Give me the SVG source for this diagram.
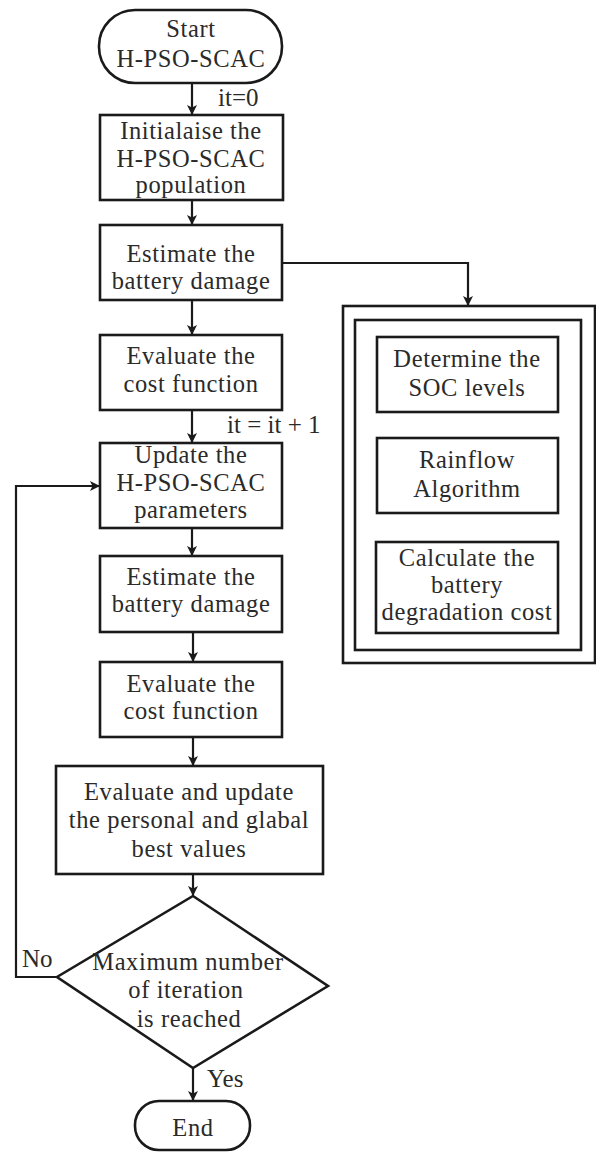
<svg xmlns="http://www.w3.org/2000/svg" width="596" height="1153" viewBox="0 0 596 1153">
<style>
.n{fill:#fff;stroke:#1a1a1a;stroke-width:2.6}
.t{font-family:"Liberation Serif","Times New Roman",serif;font-size:24.5px;letter-spacing:0.6px;fill:#2a2a2a;text-anchor:middle}
.l{font-family:"Liberation Serif","Times New Roman",serif;font-size:25px;fill:#2a2a2a}
.c{fill:none;stroke:#1a1a1a;stroke-width:2.2}
</style>
<defs>
<marker id="a" markerWidth="10" markerHeight="10" refX="9" refY="5" orient="auto" markerUnits="userSpaceOnUse">
<path d="M0,0 L10,5 L0,10 L2.5,5 Z" fill="#1a1a1a"/>
</marker>
</defs>
<rect width="596" height="1153" fill="#fff"/>
<g id="connectors">
<line class="c" x1="192" y1="83" x2="192" y2="114" marker-end="url(#a)"/>
<line class="c" x1="192" y1="200" x2="192" y2="224" marker-end="url(#a)"/>
<polyline class="c" points="282,263 468,263 468,305" marker-end="url(#a)"/>
<line class="c" x1="192" y1="300" x2="192" y2="334" marker-end="url(#a)"/>
<line class="c" x1="192" y1="410" x2="192" y2="442" marker-end="url(#a)"/>
<line class="c" x1="192" y1="528" x2="192" y2="555" marker-end="url(#a)"/>
<line class="c" x1="193" y1="632" x2="193" y2="661" marker-end="url(#a)"/>
<line class="c" x1="193" y1="737" x2="193" y2="765" marker-end="url(#a)"/>
<line class="c" x1="193" y1="874" x2="193" y2="895" marker-end="url(#a)"/>
<line class="c" x1="193" y1="1068" x2="193" y2="1100" marker-end="url(#a)"/>
<polyline class="c" points="57,977 16,977 16,486 99,486" marker-end="url(#a)"/>
<line class="c" x1="467" y1="412" x2="467" y2="437" marker-end="url(#a)"/>
<line class="c" x1="467" y1="513" x2="467" y2="541" marker-end="url(#a)"/>
<text class="l" x="218" y="106">it=0</text>
<text class="l" x="227" y="433">it = it + 1</text>
<text class="l" x="22" y="967">No</text>
<text class="l" x="207" y="1087">Yes</text>
</g>
<g id="start">
<rect class="n" x="99" y="10" width="183" height="73" rx="36"/>
<text class="t" x="191" y="37">Start</text>
<text class="t" x="191" y="67">H-PSO-SCAC</text>
</g>
<g id="init">
<rect class="n" x="100" y="115" width="183" height="85"/>
<text class="t" x="191" y="139">Initialaise the</text>
<text class="t" x="191" y="167">H-PSO-SCAC</text>
<text class="t" x="191" y="193">population</text>
</g>
<g id="estimate1">
<rect class="n" x="100" y="225" width="182" height="75"/>
<text class="t" x="191" y="262">Estimate the</text>
<text class="t" x="191" y="289">battery damage</text>
</g>
<g id="evaluate1">
<rect class="n" x="100" y="335" width="182" height="75"/>
<text class="t" x="191" y="364">Evaluate the</text>
<text class="t" x="191" y="392">cost function</text>
</g>
<g id="update">
<rect class="n" x="100" y="443" width="182" height="85"/>
<text class="t" x="191" y="463">Update the</text>
<text class="t" x="191" y="491">H-PSO-SCAC</text>
<text class="t" x="191" y="518">parameters</text>
</g>
<g id="estimate2">
<rect class="n" x="100" y="556" width="182" height="76"/>
<text class="t" x="191" y="585">Estimate the</text>
<text class="t" x="191" y="612">battery damage</text>
</g>
<g id="evaluate2">
<rect class="n" x="100" y="662" width="182" height="75"/>
<text class="t" x="191" y="692">Evaluate the</text>
<text class="t" x="191" y="719">cost function</text>
</g>
<g id="best">
<rect class="n" x="56" y="766" width="267" height="108"/>
<text class="t" x="189" y="800">Evaluate and update</text>
<text class="t" x="189" y="828">the personal and glabal</text>
<text class="t" x="189" y="857">best values</text>
</g>
<g id="decision">
<polygon class="n" points="193,896 328,986 193,1068 57,977"/>
<text class="t" x="188" y="970">Maximum number</text>
<text class="t" x="186" y="998">of iteration</text>
<text class="t" x="189" y="1027">is reached</text>
</g>
<g id="end">
<rect class="n" x="135" y="1101" width="115" height="49" rx="24"/>
<text class="t" x="193" y="1136">End</text>
</g>
<g id="damage-model">
<rect class="n" x="343" y="306" width="252" height="357"/>
<rect class="n" x="355" y="320" width="226" height="330"/>
</g>
<g id="soc">
<rect class="n" x="377" y="337" width="181" height="75"/>
<text class="t" x="467" y="367">Determine the</text>
<text class="t" x="467" y="396">SOC levels</text>
</g>
<g id="rainflow">
<rect class="n" x="377" y="438" width="181" height="75"/>
<text class="t" x="467" y="468">Rainflow</text>
<text class="t" x="467" y="497">Algorithm</text>
</g>
<g id="calc">
<rect class="n" x="376" y="542" width="182" height="91"/>
<text class="t" x="467" y="566">Calculate the</text>
<text class="t" x="467" y="593">battery</text>
<text class="t" x="467" y="620">degradation cost</text>
</g>
</svg>
